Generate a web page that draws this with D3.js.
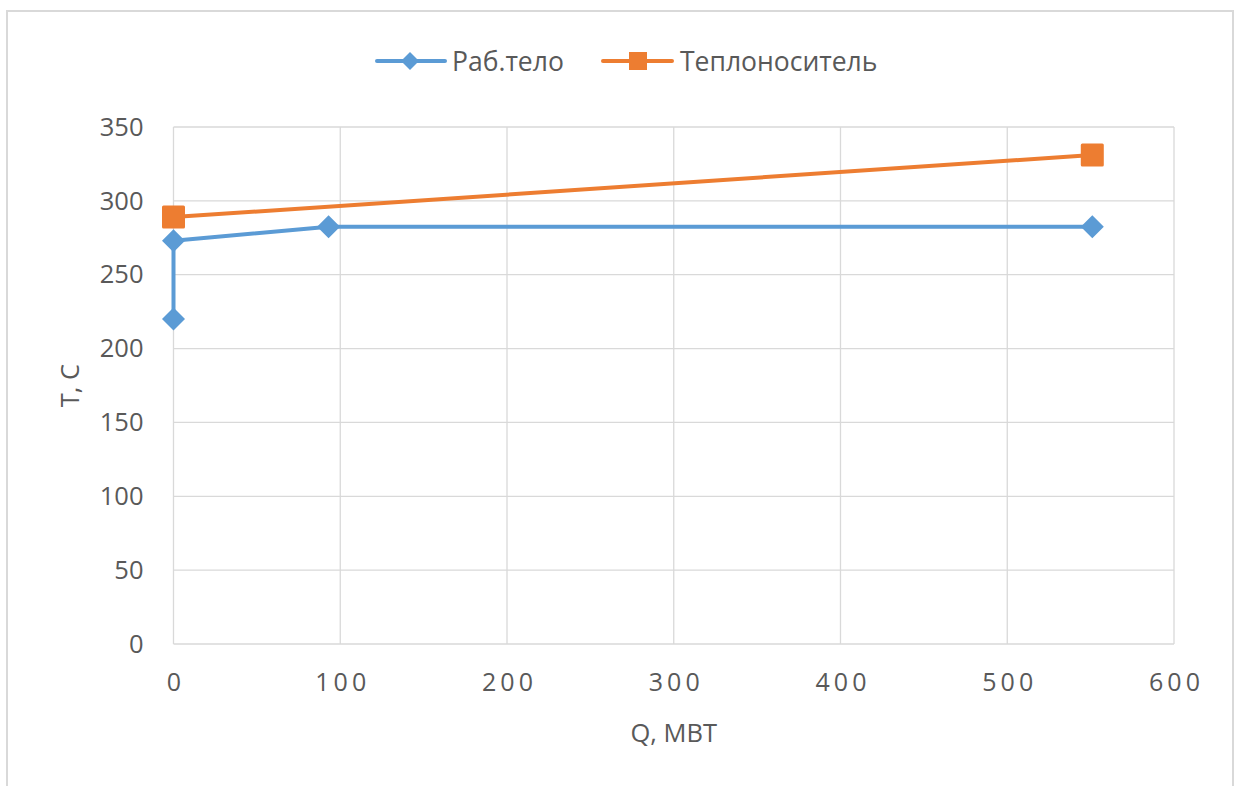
<!DOCTYPE html>
<html>
<head>
<meta charset="utf-8">
<script src="https://cdn.jsdelivr.net/npm/d3@7"></script>
<style>
  html, body { margin: 0; padding: 0; background: #fff; }
  svg { display: block; }
  text { font-family: "Open Sans", "Noto Sans", sans-serif; fill: #595959; }
</style>
</head>
<body>
<svg id="chart" width="1237" height="786"></svg>
<script>
// ---- data ----
const seriesNames = ["Раб.тело", "Теплоноситель"];
const rabX = [0, 0, 93, 551];
const rabY = [220, 273, 282.5, 282.5];
const teplX = [0, 551];
const teplY = [289, 331];
const xTicks = [0, 100, 200, 300, 400, 500, 600];
const yTicks = [0, 50, 100, 150, 200, 250, 300, 350];
const xTitle = "Q, МВТ";
const yTitle = "Т, С";

const blue = "#5b9bd5", orange = "#ed7d31";
const svg = d3.select("#chart");

// outer frame
svg.append("rect").attr("x", 7).attr("y", 11).attr("width", 1226).attr("height", 800)
  .attr("fill", "#fff").attr("stroke", "#d9d9d9").attr("stroke-width", 2);

const L = 173.5, R = 1174, T = 127, B = 644;
const x = d3.scaleLinear().domain([0, 600]).range([L, R]);
const y = d3.scaleLinear().domain([0, 350]).range([B, T]);

// gridlines
const g = svg.append("g");
g.selectAll(".hg").data(yTicks).enter().append("line")
  .attr("x1", L).attr("x2", R).attr("y1", d => y(d)).attr("y2", d => y(d))
  .attr("stroke", "#d9d9d9").attr("stroke-width", 1.3);
g.selectAll(".vg").data(xTicks).enter().append("line")
  .attr("y1", T).attr("y2", B).attr("x1", d => x(d)).attr("x2", d => x(d))
  .attr("stroke", "#d9d9d9").attr("stroke-width", 1.3);

// axes (tick labels)
const yAxis = svg.append("g").attr("transform", `translate(${L},0)`)
  .call(d3.axisLeft(y).tickValues(yTicks).tickSize(0).tickPadding(30));
yAxis.select(".domain").remove();
yAxis.selectAll("text").style("font-size", "25.5px").attr("fill", "#595959")
  .style("font-family", '"Open Sans", sans-serif');

const xAxis = svg.append("g").attr("transform", `translate(0,${B})`)
  .call(d3.axisBottom(x).tickValues(xTicks).tickSize(0).tickPadding(29));
xAxis.select(".domain").remove();
xAxis.selectAll("text").style("font-size", "25px").style("letter-spacing", "4px").attr("fill", "#595959")
  .attr("dx", "2px")
  .style("font-family", '"Open Sans", sans-serif');

// axis titles
svg.append("text").attr("x", (L + R) / 2).attr("y", 742).attr("text-anchor", "middle")
  .style("font-size", "25.5px").text(xTitle);
svg.append("text").attr("transform", `translate(79,${(T + B) / 2}) rotate(-90)`)
  .attr("text-anchor", "middle").style("font-size", "25.5px").text(yTitle);

// series
const line = d3.line().x(d => x(d[0])).y(d => y(d[1]));
const rab = rabX.map((v, i) => [v, rabY[i]]);
const tepl = teplX.map((v, i) => [v, teplY[i]]);

svg.append("path").datum(tepl).attr("d", line).attr("fill", "none")
  .attr("stroke", orange).attr("stroke-width", 4).attr("stroke-linejoin", "round");
svg.append("path").datum(rab).attr("d", line).attr("fill", "none")
  .attr("stroke", blue).attr("stroke-width", 4).attr("stroke-linejoin", "round");

const diamond = (cx, cy, r) => `M${cx},${cy - r}L${cx + r},${cy}L${cx},${cy + r}L${cx - r},${cy}Z`;
svg.selectAll(".rabm").data(rab).enter().append("path")
  .attr("d", d => diamond(x(d[0]), y(d[1]), 11.5)).attr("fill", blue);
svg.selectAll(".teplm").data(tepl).enter().append("rect")
  .attr("x", d => x(d[0]) - 11.5).attr("y", d => y(d[1]) - 11.5)
  .attr("width", 23).attr("height", 23).attr("rx", 1.5).attr("fill", orange);

// legend
const lg = svg.append("g");
const ly = 61;
lg.append("line").attr("x1", 377).attr("x2", 445).attr("y1", ly).attr("y2", ly)
  .attr("stroke", blue).attr("stroke-width", 4).attr("stroke-linecap", "round");
lg.append("path").attr("d", diamond(410, ly, 9)).attr("fill", blue);
lg.append("text").attr("x", 452).attr("y", ly + 9.5).style("font-size", "26.5px").text(seriesNames[0]);
lg.append("line").attr("x1", 603).attr("x2", 672).attr("y1", ly).attr("y2", ly)
  .attr("stroke", orange).attr("stroke-width", 4).attr("stroke-linecap", "round");
lg.append("rect").attr("x", 629).attr("y", ly - 9).attr("width", 18).attr("height", 18).attr("fill", orange);
lg.append("text").attr("x", 680).attr("y", ly + 9.5).style("font-size", "26.5px").text(seriesNames[1]);
</script>
</body>
</html>
